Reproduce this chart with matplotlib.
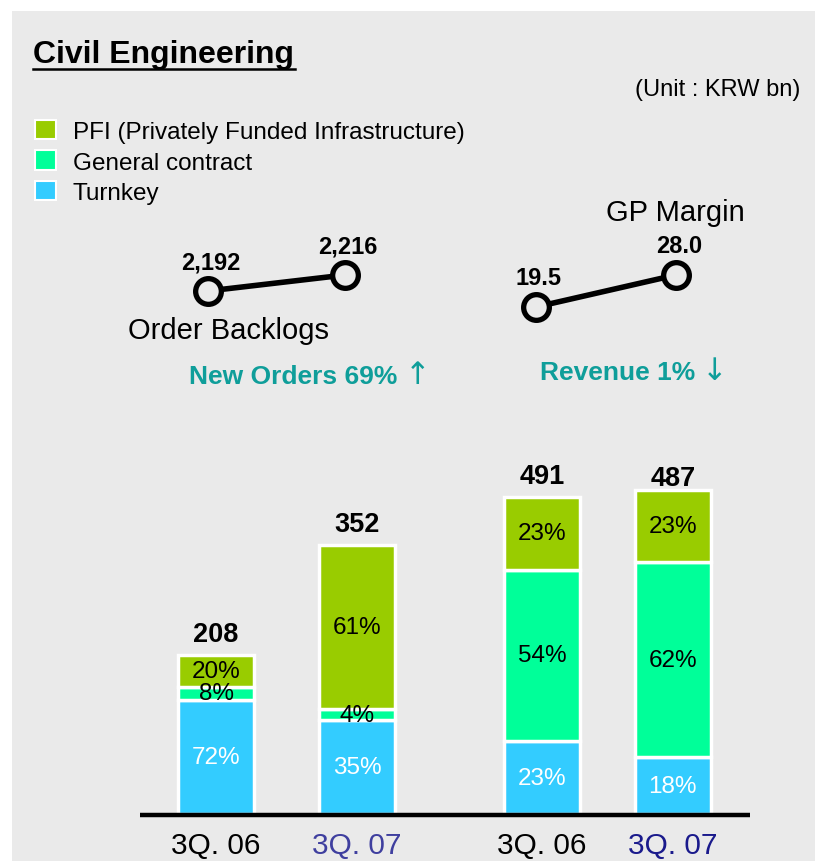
import matplotlib.pyplot as plt
from matplotlib.patches import Rectangle, Patch
from matplotlib.lines import Line2D

plt.rcParams['font.family'] = ['Liberation Sans', 'DejaVu Sans']

# data
series = ['PFI (Privately Funded Infrastructure)', 'General contract', 'Turnkey']
colors = ['#99CC00', '#00FF99', '#33CCFF']
periods = ['3Q. 06', '3Q. 07']
order_totals = [208, 352]
order_pct = {'Turnkey': [72, 35], 'General contract': [8, 4],
             'PFI (Privately Funded Infrastructure)': [20, 61]}
rev_totals = [491, 487]
rev_pct = {'Turnkey': [23, 18], 'General contract': [54, 62],
           'PFI (Privately Funded Infrastructure)': [23, 23]}
backlog = [2192, 2216]
gp_margin = [19.5, 28.0]

W, H = 825, 862
BG = '#EAEAEA'


def fx(x):
    return x / W


def fy(y):
    return 1 - y / H


def rect(x0, y0, x1, y1):
    # pixel box (top-left origin) -> figure fraction
    return [fx(x0), fy(y1), (x1 - x0) / W, (y1 - y0) / H]


fig = plt.figure(figsize=(W / 100, H / 100), dpi=100)
fig.patches.append(Rectangle((fx(12), 0), fx(815) - fx(12), fy(12), transform=fig.transFigure,
                             facecolor=BG, edgecolor='none', zorder=-10))

# title
fig.text(fx(33), fy(55), 'Civil Engineering', fontsize=23, fontweight='bold', va='center', ha='left')
fig.add_artist(Line2D([fx(33), fx(295)], [fy(70), fy(70)], color='black', lw=1.8, transform=fig.transFigure))
fig.text(fx(800), fy(90), '(Unit : KRW bn)', fontsize=17, ha='right', va='center')

# legend
handles = [Patch(facecolor=c, edgecolor='white', linewidth=1.5) for c in colors]
fig.legend(handles, series, loc='upper left', bbox_to_anchor=(fx(35), fy(121)), frameon=False,
           fontsize=17.5, handlelength=0.85, handleheight=0.85, handletextpad=0.7,
           labelspacing=0.3, borderaxespad=0, borderpad=0)


def stacked(ax, totals, pct, ymax, xlim, width):
    x = range(len(totals))
    bottom = [0] * len(totals)
    for name, c in zip(series[::-1], colors[::-1]):
        vals = [t * p / 100 for t, p in zip(totals, pct[name])]
        ax.bar(x, vals, width, bottom=bottom, color=c, edgecolor='white', linewidth=2.5)
        for i, v in enumerate(vals):
            ax.text(i, bottom[i] + v / 2, f'{pct[name][i]}%', ha='center', va='center', fontsize=17.5,
                    color='white' if name == 'Turnkey' else 'black')
        bottom = [b + v for b, v in zip(bottom, vals)]
    for i, t in enumerate(totals):
        ax.annotate(f'{t}', (i, t), xytext=(0, 6), textcoords='offset points', ha='center', va='bottom',
                    fontsize=19.5, fontweight='bold')
    ax.set_ylim(0, ymax)
    ax.set_xlim(*xlim)
    ax.set_facecolor('none')
    for s in ax.spines.values():
        s.set_visible(False)
    ax.set_yticks([])
    ax.set_xticks(list(x))
    ax.set_xticklabels(periods, fontsize=21.5)
    ax.tick_params(axis='x', length=0, pad=12)


ax1 = fig.add_axes(rect(140, 485, 440, 815))
stacked(ax1, order_totals, order_pct, 432, (-0.54, 1.59), 0.54)
ax1.get_xticklabels()[1].set_color('#3F3F9F')

ax2 = fig.add_axes(rect(440, 485, 750, 815))
stacked(ax2, rev_totals, rev_pct, 511, (-0.78, 1.59), 0.58)
ax2.get_xticklabels()[1].set_color('#1A1A8C')

# baseline
fig.add_artist(Line2D([fx(140), fx(750)], [fy(815.5), fy(815.5)], color='black', lw=3.2,
                      solid_capstyle='butt', transform=fig.transFigure, zorder=5))


def mini_line(ax, vals, fmt, xlim, ylim):
    ax.plot([0, 1], vals, color='black', lw=4, marker='o', markersize=18.5,
            markerfacecolor=BG, markeredgecolor='black', markeredgewidth=3.8)
    for i, v in enumerate(vals):
        ax.annotate(fmt(v), (i, v), xytext=(2, 21), textcoords='offset points', ha='center', va='center',
                    fontsize=17, fontweight='bold')
    ax.set_xlim(*xlim)
    ax.set_ylim(*ylim)
    ax.axis('off')


ax3 = fig.add_axes(rect(150, 230, 400, 320))
mini_line(ax3, backlog, lambda v: f'{v:,}', (-0.42, 1.40), (2150, 2285))
ax4 = fig.add_axes(rect(480, 230, 780, 330))
mini_line(ax4, gp_margin, lambda v: f'{v:.1f}', (-0.4, 1.743), (13.66, 40.2))

fig.text(fx(229), fy(331), 'Order Backlogs', fontsize=21, ha='center', va='center')
fig.text(fx(675), fy(213), 'GP Margin', fontsize=21, ha='center', va='center')

teal = '#0F9E9A'
fig.text(fx(189), fy(377), 'New Orders 69%', fontsize=19, fontweight='bold', color=teal,
         ha='left', va='center')
fig.text(fx(418), fy(376), '\u2191', fontsize=22, family='DejaVu Sans', color=teal, ha='center', va='center')
fig.text(fx(540), fy(373), 'Revenue 1%', fontsize=19, fontweight='bold', color=teal,
         ha='left', va='center')
fig.text(fx(715), fy(372), '\u2193', fontsize=22, family='DejaVu Sans', color=teal, ha='center', va='center')

fig.savefig('out.png', dpi=100, facecolor='white')
